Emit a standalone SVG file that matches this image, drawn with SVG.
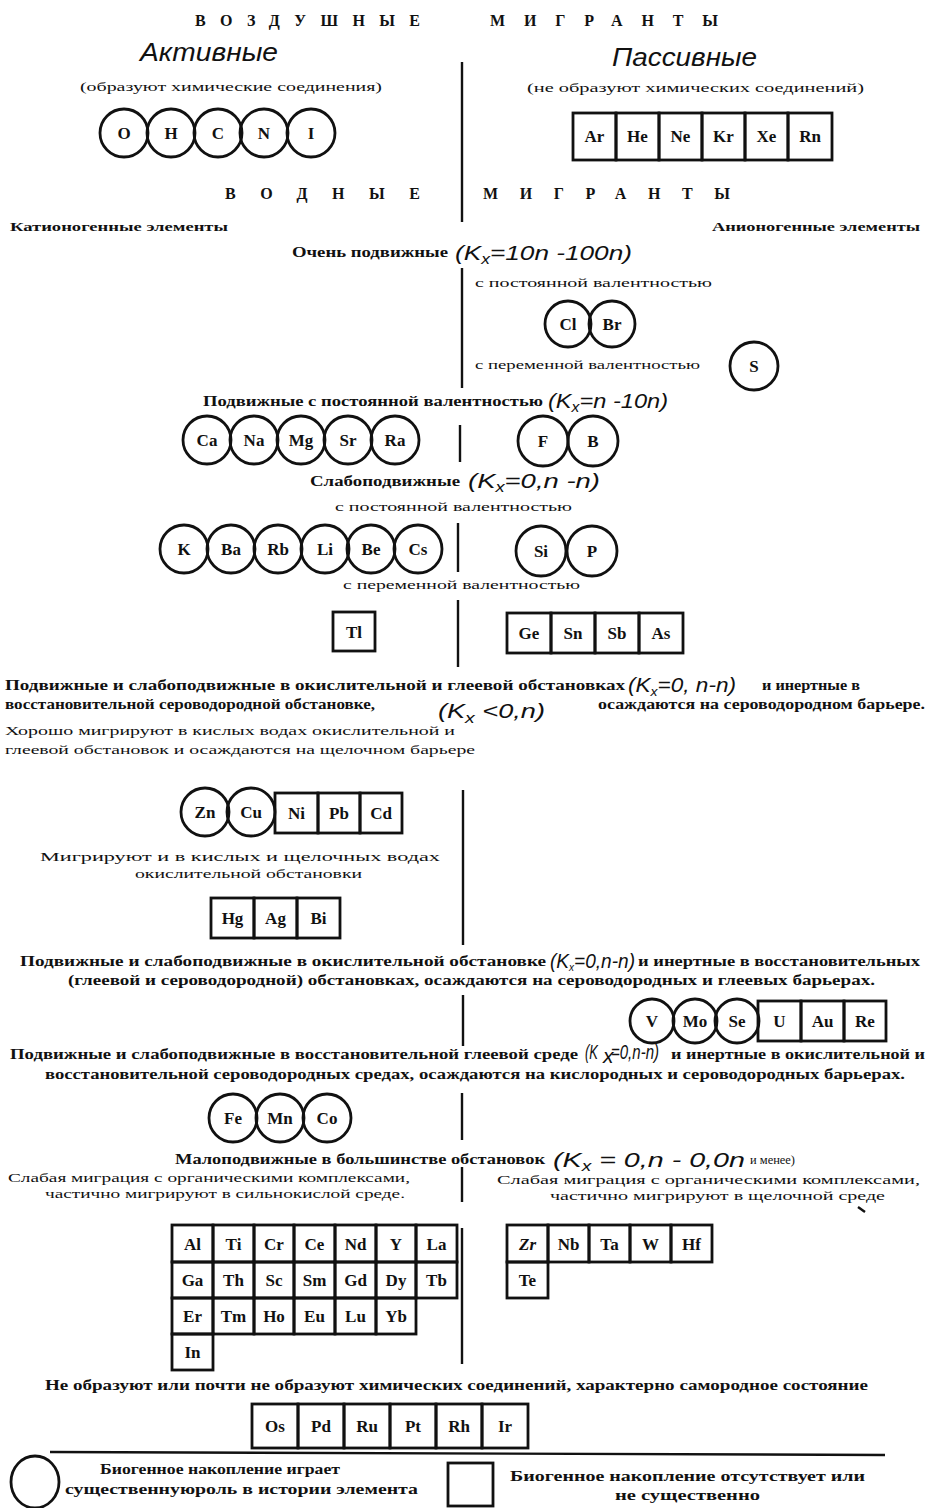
<svg xmlns="http://www.w3.org/2000/svg" width="926" height="1508" viewBox="0 0 926 1508">
<style>
text{fill:#111;font-family:"Liberation Serif","DejaVu Serif",serif}
.c{fill:none;stroke:#111;stroke-width:2.8}
.b{fill:none;stroke:#111;stroke-width:2.8}
.y{font-weight:bold;font-size:17px;text-anchor:middle}
.h{font-weight:bold;font-size:16px}
.t{font-weight:bold;font-size:14px}
.s{font-size:12.5px}
.k{font-family:"Liberation Sans","DejaVu Sans",sans-serif;font-style:italic;font-size:21px}
.a{font-family:"Liberation Sans","DejaVu Sans",sans-serif;font-style:italic;font-size:25px}
.d{stroke:#111;stroke-width:2.4;fill:none}
</style>
<rect width="926" height="1508" fill="#fff"/>

<g id="headings">
<text class="h" x="195" y="26" textLength="225" lengthAdjust="spacing">ВОЗДУШНЫЕ</text>
<text class="h" x="490" y="26" textLength="228" lengthAdjust="spacing">МИГРАНТЫ</text>
<text class="a" x="140" y="61" textLength="138" lengthAdjust="spacingAndGlyphs">Активные</text>
<text class="a" x="612" y="66" textLength="145" lengthAdjust="spacingAndGlyphs">Пассивные</text>
<text class="s" x="80" y="91" textLength="302" lengthAdjust="spacingAndGlyphs">(образуют химические соединения)</text>
<text class="s" x="527" y="92" textLength="337" lengthAdjust="spacingAndGlyphs">(не образуют химических соединений)</text>
<text class="h" x="225" y="199" textLength="195" lengthAdjust="spacing">ВОДНЫЕ</text>
<text class="h" x="483" y="199" textLength="247" lengthAdjust="spacing">МИГРАНТЫ</text>
<text class="s" x="10" y="231" textLength="218" lengthAdjust="spacingAndGlyphs" font-weight="bold">Катионогенные элементы</text>
<text class="s" x="712" y="231" textLength="208" lengthAdjust="spacingAndGlyphs" font-weight="bold">Анионогенные элементы</text>
</g>

<g id="dividers">
<line class="d" x1="462" y1="62" x2="462" y2="222"/>
<line class="d" x1="462" y1="268" x2="462" y2="388"/>
<line class="d" x1="460" y1="425" x2="460" y2="462"/>
<line class="d" x1="458" y1="523" x2="458" y2="572"/>
<line class="d" x1="458" y1="600" x2="458" y2="667"/>
<line class="d" x1="463" y1="790" x2="463" y2="945"/>
<line class="d" x1="463" y1="995" x2="463" y2="1046"/>
<line class="d" x1="462" y1="1093" x2="462" y2="1140"/>
<line class="d" x1="462" y1="1167" x2="462" y2="1202"/>
<line class="d" x1="462" y1="1228" x2="462" y2="1364"/>
<line class="d" x1="50" y1="1452" x2="885" y2="1455"/>
<line class="d" x1="858" y1="1207" x2="865" y2="1212" stroke-width="1.6"/>
</g>

<g id="air-active">
<g id="el-O"><circle class="c" cx="124" cy="133" r="24"/><text class="y" x="124" y="139">O</text></g>
<g id="el-H"><circle class="c" cx="171" cy="133" r="24"/><text class="y" x="171" y="139">H</text></g>
<g id="el-C"><circle class="c" cx="218" cy="133" r="24"/><text class="y" x="218" y="139">C</text></g>
<g id="el-N"><circle class="c" cx="264" cy="133" r="24"/><text class="y" x="264" y="139">N</text></g>
<g id="el-I"><circle class="c" cx="311" cy="133" r="24"/><text class="y" x="311" y="139">I</text></g>
</g>
<g id="air-passive">
<g id="el-Ar"><rect class="b" x="573" y="113" width="43" height="47"/><text class="y" x="594.5" y="142">Ar</text></g>
<g id="el-He"><rect class="b" x="616" y="113" width="43" height="47"/><text class="y" x="637.5" y="142">He</text></g>
<g id="el-Ne"><rect class="b" x="659" y="113" width="43" height="47"/><text class="y" x="680.5" y="142">Ne</text></g>
<g id="el-Kr"><rect class="b" x="702" y="113" width="43" height="47"/><text class="y" x="723.5" y="142">Kr</text></g>
<g id="el-Xe"><rect class="b" x="745" y="113" width="43" height="47"/><text class="y" x="766.5" y="142">Xe</text></g>
<g id="el-Rn"><rect class="b" x="788" y="113" width="44" height="47"/><text class="y" x="810" y="142">Rn</text></g>
</g>

<g id="very-mobile">
<text class="t" x="292" y="257" textLength="156" lengthAdjust="spacingAndGlyphs">Очень подвижные</text>
<text class="k" x="455" y="260" textLength="177" lengthAdjust="spacingAndGlyphs">(K<tspan font-size="14" dy="4">x</tspan><tspan dy="-4">=10n -100n)</tspan></text>
<text class="s" x="475" y="287" font-size="11" textLength="237" lengthAdjust="spacingAndGlyphs">с постоянной валентностью</text>
<g id="el-Cl"><circle class="c" cx="568" cy="324" r="23"/><text class="y" x="568" y="330">Cl</text></g>
<g id="el-Br"><circle class="c" cx="612" cy="324" r="23"/><text class="y" x="612" y="330">Br</text></g>
<text class="s" x="475" y="369" font-size="11" textLength="225" lengthAdjust="spacingAndGlyphs">с переменной валентностью</text>
<g id="el-S"><circle class="c" cx="754" cy="366" r="24"/><text class="y" x="754" y="372">S</text></g>
</g>

<g id="mobile">
<text class="t" x="203" y="406" textLength="340" lengthAdjust="spacingAndGlyphs">Подвижные с постоянной валентностью</text>
<text class="k" x="548" y="408" textLength="120" lengthAdjust="spacingAndGlyphs">(K<tspan font-size="14" dy="4">x</tspan><tspan dy="-4">=n -10n)</tspan></text>
<g id="el-Ca"><circle class="c" cx="207" cy="440" r="24"/><text class="y" x="207" y="446">Ca</text></g>
<g id="el-Na"><circle class="c" cx="254" cy="440" r="24"/><text class="y" x="254" y="446">Na</text></g>
<g id="el-Mg"><circle class="c" cx="301" cy="440" r="24"/><text class="y" x="301" y="446">Mg</text></g>
<g id="el-Sr"><circle class="c" cx="348" cy="440" r="24"/><text class="y" x="348" y="446">Sr</text></g>
<g id="el-Ra"><circle class="c" cx="395" cy="440" r="24"/><text class="y" x="395" y="446">Ra</text></g>
<g id="el-F"><circle class="c" cx="543" cy="441" r="25"/><text class="y" x="543" y="447">F</text></g>
<g id="el-B"><circle class="c" cx="593" cy="441" r="25"/><text class="y" x="593" y="447">B</text></g>
</g>

<g id="weak-mobile">
<text class="t" x="310" y="486" textLength="150" lengthAdjust="spacingAndGlyphs">Слабоподвижные</text>
<text class="k" x="468" y="488" textLength="132" lengthAdjust="spacingAndGlyphs">(K<tspan font-size="14" dy="4">x</tspan><tspan dy="-4">=0,n -n)</tspan></text>
<text class="s" x="335" y="511" font-size="11" textLength="237" lengthAdjust="spacingAndGlyphs">с постоянной валентностью</text>
<g id="el-K"><circle class="c" cx="184" cy="549" r="24"/><text class="y" x="184" y="555">K</text></g>
<g id="el-Ba"><circle class="c" cx="231" cy="549" r="24"/><text class="y" x="231" y="555">Ba</text></g>
<g id="el-Rb"><circle class="c" cx="278" cy="549" r="24"/><text class="y" x="278" y="555">Rb</text></g>
<g id="el-Li"><circle class="c" cx="325" cy="549" r="24"/><text class="y" x="325" y="555">Li</text></g>
<g id="el-Be"><circle class="c" cx="371" cy="549" r="24"/><text class="y" x="371" y="555">Be</text></g>
<g id="el-Cs"><circle class="c" cx="418" cy="549" r="24"/><text class="y" x="418" y="555">Cs</text></g>
<g id="el-Si"><circle class="c" cx="541" cy="551" r="25"/><text class="y" x="541" y="557">Si</text></g>
<g id="el-P"><circle class="c" cx="592" cy="551" r="25"/><text class="y" x="592" y="557">P</text></g>
<text class="s" x="343" y="589" font-size="11" textLength="237" lengthAdjust="spacingAndGlyphs">с переменной валентностью</text>
<g id="el-Tl"><rect class="b" x="333" y="612" width="42" height="39"/><text class="y" x="354" y="638">Tl</text></g>
<g id="el-Ge"><rect class="b" x="507" y="613" width="44" height="40"/><text class="y" x="529" y="639">Ge</text></g>
<g id="el-Sn"><rect class="b" x="551" y="613" width="44" height="40"/><text class="y" x="573" y="639">Sn</text></g>
<g id="el-Sb"><rect class="b" x="595" y="613" width="44" height="40"/><text class="y" x="617" y="639">Sb</text></g>
<g id="el-As"><rect class="b" x="639" y="613" width="44" height="40"/><text class="y" x="661" y="639">As</text></g>
</g>

<g id="group-sulfide">
<text class="t" x="5" y="690" textLength="620" lengthAdjust="spacingAndGlyphs">Подвижные и   слабоподвижные в окислительной и глеевой обстановках</text>
<text class="k" x="628" y="692" font-size="19" textLength="108" lengthAdjust="spacingAndGlyphs">(K<tspan font-size="13" dy="4">x</tspan><tspan dy="-4">=0, n-n)</tspan></text>
<text class="t" x="762" y="690" font-size="12" textLength="98" lengthAdjust="spacingAndGlyphs">и инертные в</text>
<text class="t" x="5" y="709" textLength="370" lengthAdjust="spacingAndGlyphs">восстановительной  сероводородной обстановке,</text>
<text class="k" x="438" y="718" font-size="23" textLength="107" lengthAdjust="spacingAndGlyphs">(K<tspan font-size="15" dy="5">x</tspan><tspan dy="-5"> &lt;0,n)</tspan></text>
<text class="t" x="598" y="709" font-size="13" textLength="327" lengthAdjust="spacingAndGlyphs">осаждаются на сероводородном барьере.</text>
<text class="s" x="5" y="735" textLength="450" lengthAdjust="spacingAndGlyphs">Хорошо мигрируют в кислых водах окислительной и</text>
<text class="s" x="5" y="754" textLength="470" lengthAdjust="spacingAndGlyphs">глеевой обстановок и осаждаются на щелочном барьере</text>
<g id="el-Zn"><circle class="c" cx="205" cy="812" r="24"/><text class="y" x="205" y="818">Zn</text></g>
<g id="el-Cu"><circle class="c" cx="251" cy="812" r="24"/><text class="y" x="251" y="818">Cu</text></g>
<g id="el-Ni"><rect class="b" x="275" y="793" width="43" height="40"/><text class="y" x="296.5" y="819">Ni</text></g>
<g id="el-Pb"><rect class="b" x="318" y="793" width="42" height="40"/><text class="y" x="339" y="819">Pb</text></g>
<g id="el-Cd"><rect class="b" x="360" y="793" width="42" height="40"/><text class="y" x="381" y="819">Cd</text></g>
<text class="s" x="40" y="861" textLength="400" lengthAdjust="spacingAndGlyphs">Мигрируют   и   в кислых и щелочных   водах</text>
<text class="s" x="135" y="878" font-size="12" textLength="227" lengthAdjust="spacingAndGlyphs">окислительной обстановки</text>
<g id="el-Hg"><rect class="b" x="211" y="898" width="43" height="40"/><text class="y" x="232.5" y="924">Hg</text></g>
<g id="el-Ag"><rect class="b" x="254" y="898" width="43" height="40"/><text class="y" x="275.5" y="924">Ag</text></g>
<g id="el-Bi"><rect class="b" x="297" y="898" width="43" height="40"/><text class="y" x="318.5" y="924">Bi</text></g>
</g>

<g id="group-gley">
<text class="t" x="20" y="966" textLength="526" lengthAdjust="spacingAndGlyphs">Подвижные и слабоподвижные в  окислительной   обстановке</text>
<text class="k" x="550" y="968" font-size="17" textLength="85" lengthAdjust="spacingAndGlyphs">(K<tspan font-size="11" dy="3">x</tspan><tspan dy="-3">=0,n-n)</tspan></text>
<text class="t" x="638" y="966" textLength="282" lengthAdjust="spacingAndGlyphs">и инертные в восстановительных</text>
<text class="t" x="68" y="985" textLength="807" lengthAdjust="spacingAndGlyphs">(глеевой и сероводородной) обстановках,  осаждаются на сероводородных и глеевых барьерах.</text>
<g id="el-V"><circle class="c" cx="652" cy="1021" r="22"/><text class="y" x="652" y="1027">V</text></g>
<g id="el-Mo"><circle class="c" cx="695" cy="1021" r="22"/><text class="y" x="695" y="1027">Mo</text></g>
<g id="el-Se"><circle class="c" cx="737" cy="1021" r="22"/><text class="y" x="737" y="1027">Se</text></g>
<g id="el-U"><rect class="b" x="758" y="1001" width="43" height="40"/><text class="y" x="779.5" y="1027">U</text></g>
<g id="el-Au"><rect class="b" x="801" y="1001" width="43" height="40"/><text class="y" x="822.5" y="1027">Au</text></g>
<g id="el-Re"><rect class="b" x="844" y="1001" width="42" height="40"/><text class="y" x="865" y="1027">Re</text></g>
</g>

<g id="group-oxygen">
<text class="t" x="10" y="1059" textLength="568" lengthAdjust="spacingAndGlyphs">Подвижные и слабоподвижные в восстановительной глеевой среде</text>
<text class="k" x="585" y="1059" font-size="15" textLength="13" lengthAdjust="spacingAndGlyphs">(K</text>
<text class="k" x="603" y="1063" font-size="10">x</text>
<text class="k" x="611" y="1059" font-size="15" textLength="48" lengthAdjust="spacingAndGlyphs">=0,n-n)</text>
<text class="t" x="671" y="1059" textLength="254" lengthAdjust="spacingAndGlyphs">и инертные в окислительной и</text>
<text class="t" x="45" y="1079" textLength="860" lengthAdjust="spacingAndGlyphs">восстановительной сероводородных средах, осаждаются на кислородных и сероводородных барьерах.</text>
<g id="el-Fe"><circle class="c" cx="233" cy="1118" r="24"/><text class="y" x="233" y="1124">Fe</text></g>
<g id="el-Mn"><circle class="c" cx="280" cy="1118" r="24"/><text class="y" x="280" y="1124">Mn</text></g>
<g id="el-Co"><circle class="c" cx="327" cy="1118" r="24"/><text class="y" x="327" y="1124">Co</text></g>
</g>

<g id="group-low-mobile">
<text class="t" x="175" y="1164" textLength="370" lengthAdjust="spacingAndGlyphs">Малоподвижные в большинстве обстановок</text>
<text class="k" x="553" y="1167" textLength="192" lengthAdjust="spacingAndGlyphs">(K<tspan font-size="14" dy="4">x</tspan><tspan dy="-4"> = 0,n - 0,0n</tspan></text>
<text class="s" x="750" y="1164" font-size="11" textLength="45" lengthAdjust="spacingAndGlyphs">и менее)</text>
<text class="s" x="8" y="1182" textLength="402" lengthAdjust="spacingAndGlyphs">Слабая миграция с органическими комплексами,</text>
<text class="s" x="45" y="1198" textLength="360" lengthAdjust="spacingAndGlyphs">частично мигрируют в сильнокислой среде.</text>
<text class="s" x="497" y="1184" textLength="423" lengthAdjust="spacingAndGlyphs">Слабая миграция с органическими комплексами,</text>
<text class="s" x="550" y="1200" textLength="335" lengthAdjust="spacingAndGlyphs">частично мигрируют  в щелочной среде</text>

<g id="el-Al"><rect class="b" x="172" y="1225" width="41" height="37"/><text class="y" x="192.5" y="1250">Al</text></g>
<g id="el-Ti"><rect class="b" x="213" y="1225" width="41" height="37"/><text class="y" x="233.5" y="1250">Ti</text></g>
<g id="el-Cr"><rect class="b" x="254" y="1225" width="40" height="37"/><text class="y" x="274" y="1250">Cr</text></g>
<g id="el-Ce"><rect class="b" x="294" y="1225" width="41" height="37"/><text class="y" x="314.5" y="1250">Ce</text></g>
<g id="el-Nd"><rect class="b" x="335" y="1225" width="41" height="37"/><text class="y" x="355.5" y="1250">Nd</text></g>
<g id="el-Y"><rect class="b" x="376" y="1225" width="40" height="37"/><text class="y" x="396" y="1250">Y</text></g>
<g id="el-La"><rect class="b" x="416" y="1225" width="41" height="37"/><text class="y" x="436.5" y="1250">La</text></g>

<g id="el-Ga"><rect class="b" x="172" y="1262" width="41" height="36"/><text class="y" x="192.5" y="1286">Ga</text></g>
<g id="el-Th"><rect class="b" x="213" y="1262" width="41" height="36"/><text class="y" x="233.5" y="1286">Th</text></g>
<g id="el-Sc"><rect class="b" x="254" y="1262" width="40" height="36"/><text class="y" x="274" y="1286">Sc</text></g>
<g id="el-Sm"><rect class="b" x="294" y="1262" width="41" height="36"/><text class="y" x="314.5" y="1286">Sm</text></g>
<g id="el-Gd"><rect class="b" x="335" y="1262" width="41" height="36"/><text class="y" x="355.5" y="1286">Gd</text></g>
<g id="el-Dy"><rect class="b" x="376" y="1262" width="40" height="36"/><text class="y" x="396" y="1286">Dy</text></g>
<g id="el-Tb"><rect class="b" x="416" y="1262" width="41" height="36"/><text class="y" x="436.5" y="1286">Tb</text></g>

<g id="el-Er"><rect class="b" x="172" y="1298" width="41" height="36"/><text class="y" x="192.5" y="1322">Er</text></g>
<g id="el-Tm"><rect class="b" x="213" y="1298" width="41" height="36"/><text class="y" x="233.5" y="1322">Tm</text></g>
<g id="el-Ho"><rect class="b" x="254" y="1298" width="40" height="36"/><text class="y" x="274" y="1322">Ho</text></g>
<g id="el-Eu"><rect class="b" x="294" y="1298" width="41" height="36"/><text class="y" x="314.5" y="1322">Eu</text></g>
<g id="el-Lu"><rect class="b" x="335" y="1298" width="41" height="36"/><text class="y" x="355.5" y="1322">Lu</text></g>
<g id="el-Yb"><rect class="b" x="376" y="1298" width="40" height="36"/><text class="y" x="396" y="1322">Yb</text></g>

<g id="el-In"><rect class="b" x="172" y="1334" width="41" height="36"/><text class="y" x="192.5" y="1358">In</text></g>

<g id="el-Zr"><rect class="b" x="507" y="1225" width="41" height="37"/><text class="y" x="527.5" y="1250" font-style="italic">Zr</text></g>
<g id="el-Nb"><rect class="b" x="548" y="1225" width="41" height="37"/><text class="y" x="568.5" y="1250">Nb</text></g>
<g id="el-Ta"><rect class="b" x="589" y="1225" width="41" height="37"/><text class="y" x="609.5" y="1250">Ta</text></g>
<g id="el-W"><rect class="b" x="630" y="1225" width="41" height="37"/><text class="y" x="650.5" y="1250">W</text></g>
<g id="el-Hf"><rect class="b" x="671" y="1225" width="41" height="37"/><text class="y" x="691.5" y="1250">Hf</text></g>
<g id="el-Te"><rect class="b" x="507" y="1262" width="41" height="36"/><text class="y" x="527.5" y="1286">Te</text></g>
</g>

<g id="group-native">
<text class="t" x="45" y="1390" textLength="823" lengthAdjust="spacingAndGlyphs">Не образуют или почти не образуют химических соединений,  характерно самородное состояние</text>
<g id="el-Os"><rect class="b" x="252" y="1404" width="46" height="44"/><text class="y" x="275" y="1432">Os</text></g>
<g id="el-Pd"><rect class="b" x="298" y="1404" width="46" height="44"/><text class="y" x="321" y="1432">Pd</text></g>
<g id="el-Ru"><rect class="b" x="344" y="1404" width="46" height="44"/><text class="y" x="367" y="1432">Ru</text></g>
<g id="el-Pt"><rect class="b" x="390" y="1404" width="46" height="44"/><text class="y" x="413" y="1432">Pt</text></g>
<g id="el-Rh"><rect class="b" x="436" y="1404" width="46" height="44"/><text class="y" x="459" y="1432">Rh</text></g>
<g id="el-Ir"><rect class="b" x="482" y="1404" width="46" height="44"/><text class="y" x="505" y="1432">Ir</text></g>
</g>

<g id="legend">
<g id="legend-circle">
<ellipse class="c" cx="35" cy="1482" rx="24" ry="26" stroke-width="3"/>
<text class="t" x="100" y="1474" textLength="240" lengthAdjust="spacingAndGlyphs">Биогенное накопление играет</text>
<text class="t" x="65" y="1494" textLength="353" lengthAdjust="spacingAndGlyphs">существеннуюроль в истории элемента</text>
</g>
<g id="legend-square">
<rect class="b" x="448" y="1463" width="45" height="43" stroke-width="3"/>
<text class="t" x="510" y="1481" textLength="355" lengthAdjust="spacingAndGlyphs">Биогенное накопление отсутствует или</text>
<text class="t" x="615" y="1500" textLength="145" lengthAdjust="spacingAndGlyphs">не существенно</text>
</g>
</g>
</svg>
